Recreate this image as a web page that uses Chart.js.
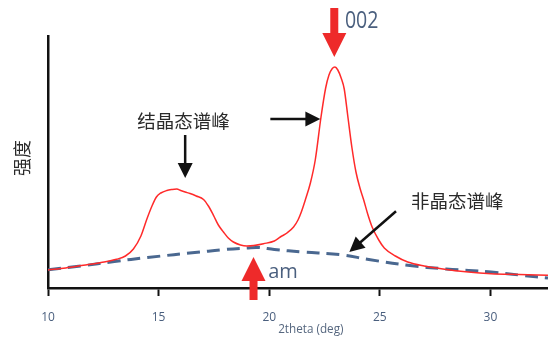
<!DOCTYPE html>
<html><head><meta charset="utf-8">
<script src="https://cdn.jsdelivr.net/npm/chart.js@4/dist/chart.umd.min.js"></script>
<style>html,body{margin:0;padding:0;background:#fff}#wrap{width:548px;height:345px}</style>
</head><body><div id="wrap"><canvas id="c" width="548" height="345"></canvas></div>
<script>
// 2theta (deg) and intensity (arbitrary units) of measured XRD pattern
const twoTheta = [10.0,10.8,11.6,12.4,13.1,13.5,13.86,14.2,14.47,14.7,14.9,15.1,15.37,15.6,15.82,16.0,16.2,16.42,16.7,17.03,17.25,17.48,17.7,17.93,18.15,18.38,18.7,18.99,19.3,19.74,20.23,20.5,20.8,21.1,21.3,21.45,21.63,21.86,22.08,22.34,22.55,22.7,22.85,22.97,23.1,23.25,23.39,23.55,23.74,23.92,24.1,24.27,24.45,24.65,24.95,25.2,25.7,26.26,27.0,27.77,29.0,30.03,31.3,32.6];
const intensity = [18,20,22.7,25.5,28.7,32,39,52,69,82,91,95,97.5,98.5,99,97.5,96,94.5,92,88.5,82,72.7,63,56,50,46,43,42,42.5,44.3,47,51,55,61,68,76,88,105,128,171,200,213,219.5,221,218,210,199,172,140,116,100,88,74,61,48,40,32,26,22,19.3,16,14.3,13.5,12.7];
// amorphous halo (dashed)
const amX = [10,11.5,13,14.5,16.88,18,19,19.5,20.23,21.5,23.24,24.5,26.26,28,30.03,31.5,32.6];
const amY = [18.3,22,26.5,30.5,36,38.5,40,40.5,38.5,36,33.3,28.5,22.7,19,16,12.5,10];
const xTicks = [10,15,20,25,30];
const xTitle = '2theta (deg)';
const yTitle = '强度';
// annotations in data coordinates
const labelCryst = {text:'结晶态谱峰', x:16.13, y:167.5};
const labelAmorph = {text:'非晶态谱峰', x:28.5, y:87};
const label002 = {text:'002', x:23.42, y:266.5};
const labelAm = {text:'am', x:19.95, y:10};
const xTitlePos = {x:21.88, y:-41};
const blackArrows = [
  {x1:16.2, y1:153, x2:16.2, y2:110},
  {x1:20.05, y1:169, x2:22.31, y2:169},
  {x1:25.73, y1:76.7, x2:23.62, y2:36}
];
const redArrows = [
  {x1:22.94, y1:280, x2:22.94, y2:231},
  {x1:19.29, y1:-12, x2:19.29, y2:31}
];

function arrow(ctx, x1,y1,x2,y2, color, shaftW, headL, headW){
  const a = Math.atan2(y2-y1, x2-x1);
  const len = Math.hypot(x2-x1,y2-y1);
  ctx.save();
  ctx.translate(x1,y1); ctx.rotate(a);
  ctx.fillStyle = color;
  ctx.fillRect(0,-shaftW/2,len-headL+1,shaftW);
  ctx.beginPath();
  ctx.moveTo(len,0); ctx.lineTo(len-headL,-headW/2); ctx.lineTo(len-headL,headW/2); ctx.closePath();
  ctx.fill();
  ctx.restore();
}

const annot = {
  id:'annot',
  afterDraw(chart){
    const ctx = chart.ctx, xs = chart.scales.x, ys = chart.scales.y;
    const px = v=>xs.getPixelForValue(v), py = v=>ys.getPixelForValue(v);
    ctx.save();
    blackArrows.forEach(a=>arrow(ctx,px(a.x1),py(a.y1),px(a.x2),py(a.y2),'#111',2.5,15,15));
    redArrows.forEach(a=>arrow(ctx,px(a.x1),py(a.y1),px(a.x2),py(a.y2),'#ee2a2a',8,24,24));
    ctx.fillStyle = '#2a2a2a';
    ctx.font = '18.5px "Noto Sans CJK SC"';
    ctx.textAlign='center'; ctx.textBaseline='middle';
    ctx.fillText(labelCryst.text, px(labelCryst.x), py(labelCryst.y));
    ctx.fillText(labelAmorph.text, px(labelAmorph.x), py(labelAmorph.y));
    ctx.fillStyle = '#4a5f7e';
    ctx.font = '20px "Open Sans"';
    ctx.textAlign='left'; ctx.textBaseline='alphabetic';
    ctx.fillText(labelAm.text, px(labelAm.x), py(labelAm.y));
    // 002 (condensed)
    ctx.save();
    ctx.translate(px(label002.x), py(label002.y));
    ctx.scale(0.85,1);
    ctx.font = '23px "Open Sans"';
    ctx.textBaseline='middle';
    ctx.fillText(label002.text,0,0);
    ctx.restore();
    // x title
    ctx.save();
    ctx.fillStyle = '#56677f';
    ctx.font = '13px "Open Sans"';
    ctx.translate(px(xTitlePos.x), py(xTitlePos.y));
    ctx.scale(0.9,1);
    ctx.textAlign='center'; ctx.textBaseline='middle';
    ctx.fillText(xTitle,0,0);
    ctx.restore();
    // y title
    ctx.fillStyle = '#2a2a2a';
    ctx.font = '18px "Noto Sans CJK SC"';
    ctx.translate(22, 158);
    ctx.rotate(-Math.PI/2);
    ctx.textAlign='center'; ctx.textBaseline='middle';
    ctx.fillText(yTitle,0,0);
    ctx.restore();
  }
};

new Chart(document.getElementById('c'), {
  type:'line',
  data:{datasets:[
    {data: twoTheta.map((x,i)=>({x, y:intensity[i]})), borderColor:'#ff2a2a', borderWidth:1.5, pointRadius:0, cubicInterpolationMode:'monotone', fill:false},
    {data: amX.map((x,i)=>({x, y:amY[i]})), borderColor:'#4a6890', borderWidth:3, borderDash:[13,7], pointRadius:0, tension:0.4, fill:false}
  ]},
  options:{
    responsive:false, animation:false, devicePixelRatio:1,
    layout:{padding:{top:36,right:0,left:0,bottom:0}},
    plugins:{legend:{display:false}, tooltip:{enabled:false}},
    scales:{
      x:{type:'linear', min:10, max:32.6,
        afterFit(s){ s.height = 57; },
        afterBuildTicks(s){ s.ticks = xTicks.map(v=>({value:v})); },
        grid:{display:true, drawOnChartArea:false, drawTicks:true, tickLength:8, color:'#111', tickWidth:2, tickColor:'#111'},
        border:{display:true, color:'#111', width:2.5},
        ticks:{color:'#4a5f7e', font:{family:'Open Sans', size:12}, padding:14, maxRotation:0},
        title:{display:false}
      },
      y:{min:0, max:252,
        afterFit(s){ s.width = 48; },
        grid:{display:false, drawTicks:false},
        border:{display:true, color:'#111', width:2.5},
        ticks:{display:false}
      }
    }
  },
  plugins:[annot]
});
</script></body></html>
